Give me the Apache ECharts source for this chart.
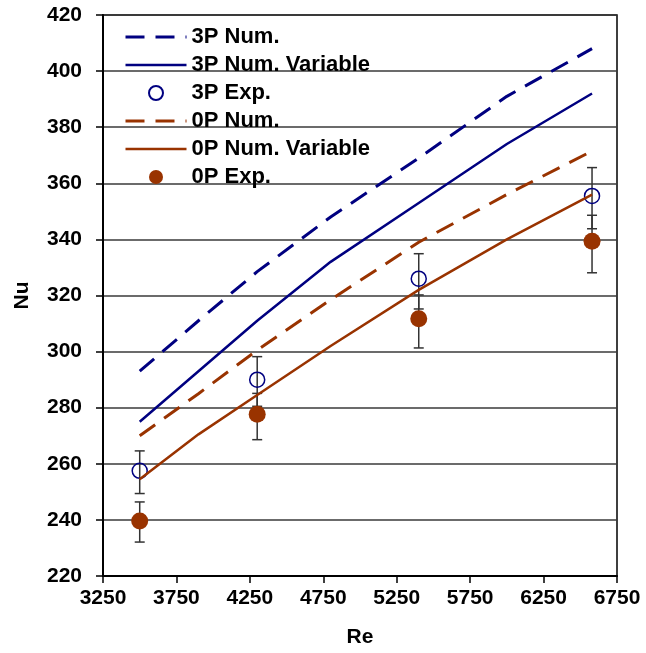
<!DOCTYPE html>
<html>
<head>
<meta charset="utf-8">
<script src="https://cdn.jsdelivr.net/npm/echarts@6/dist/echarts.min.js"></script>
<style>
  html, body { margin: 0; padding: 0; background: #fff; }
  #chart { width: 646px; height: 653px; }
</style>
</head>
<body>
<div id="chart"></div>
<script>
// numerical curves
const reNum = [3500, 3900, 4300, 4800, 5400, 6000, 6580];
const nu3pNum = [293, 311, 328.5, 348, 369, 391, 408];
const nu3pNumVar = [275, 293, 311, 332, 353, 374, 392];
const nu0pNum = [270, 285, 300.5, 318.5, 339, 356, 371.5];
const nu0pNumVar = [254.5, 270.5, 284.5, 302, 322, 340, 356];

// experiments with error bars
const reExp = [3500, 4300, 5400, 6580];
const nu3pExp = [257.5, 290, 326, 355.5];
const nu3pLow = [249.4, 280.5, 315.2, 343.8];
const nu3pHigh = [264.6, 298.2, 334.9, 365.6];
const nu0pExp = [239.6, 277.7, 311.7, 339.3];
const nu0pLow = [232.1, 268.6, 301.3, 328.1];
const nu0pHigh = [246.4, 285.1, 320.2, 348.6];

const xTicks = [3250, 3750, 4250, 4750, 5250, 5750, 6250, 6750];

const BLUE = "#000080";
const RED = "#993300";
const FONT = "'Liberation Sans', Arial, sans-serif";

const pairs = (xs, ys) => xs.map((x, i) => [x, ys[i]]);
const bars = (xs, lo, hi) => xs.map((x, i) => [x, lo[i], hi[i]]);

// line-only legend entry (hide the marker ECharts adds)
const lineLegend = name => ({
    name,
    itemStyle: { color: "rgba(0,0,0,0)", borderColor: "rgba(0,0,0,0)", borderWidth: 0, opacity: 0 }
});

function errorBar(params, api) {
    const x = api.value(0);
    const lo = api.coord([x, api.value(1)]);
    const hi = api.coord([x, api.value(2)]);
    const w = 5;
    const style = { stroke: "#333", lineWidth: 1.5 };
    return {
        type: "group",
        children: [
            { type: "line", shape: { x1: lo[0], y1: lo[1], x2: hi[0], y2: hi[1] }, style },
            { type: "line", shape: { x1: lo[0] - w, y1: lo[1], x2: lo[0] + w, y2: lo[1] }, style },
            { type: "line", shape: { x1: hi[0] - w, y1: hi[1], x2: hi[0] + w, y2: hi[1] }, style }
        ]
    };
}

const chart = echarts.init(document.getElementById("chart"));

chart.setOption({
    backgroundColor: "#fff",
    animation: false,
    textStyle: { fontFamily: FONT },

    grid: {
        left: 103, right: 29, top: 15, bottom: 76,
        show: true, borderColor: "#000", borderWidth: 1.5
    },

    legend: {
        orient: "vertical",
        left: 124,
        top: 26,
        padding: 0,
        itemWidth: 61,
        itemHeight: 14,
        itemGap: 6,
        lineStyle: { width: "inherit", type: "inherit" },
        textStyle: { fontFamily: FONT, fontSize: 22, fontWeight: "bold", color: "#000", lineHeight: 22 },
        data: [
            lineLegend("3P Num."),
            lineLegend("3P Num. Variable"),
            { name: "3P Exp." },
            lineLegend("0P Num."),
            lineLegend("0P Num. Variable"),
            { name: "0P Exp." }
        ]
    },

    xAxis: {
        type: "value",
        min: 3250,
        max: 6750,
        interval: 500,
        name: "Re",
        nameLocation: "middle",
        nameGap: 51,
        nameTextStyle: { fontFamily: FONT, fontSize: 21, fontWeight: "bold", color: "#000" },
        axisLine: { lineStyle: { color: "#000", width: 2 } },
        axisTick: { show: true, length: 7, lineStyle: { color: "#000", width: 1.5 } },
        axisLabel: {
            fontFamily: FONT, fontSize: 21, fontWeight: "bold", color: "#000", margin: 12,
            formatter: v => xTicks.includes(v) ? String(v) : ""
        },
        splitLine: { show: false }
    },

    yAxis: {
        type: "value",
        min: 220,
        max: 420,
        interval: 20,
        name: "Nu",
        nameLocation: "middle",
        nameRotate: 90,
        nameGap: 70,
        nameTextStyle: { fontFamily: FONT, fontSize: 21, fontWeight: "bold", color: "#000" },
        axisLine: { show: true, lineStyle: { color: "#000", width: 2 } },
        axisTick: { show: true, length: 7, lineStyle: { color: "#000", width: 1.5 } },
        axisLabel: { fontFamily: FONT, fontSize: 21, fontWeight: "bold", color: "#000", margin: 21 },
        splitLine: { show: true, lineStyle: { color: "#3a3a3a", width: 1.5 } }
    },

    series: [
        {
            name: "3P Err",
            type: "custom",
            renderItem: errorBar,
            data: bars(reExp, nu3pLow, nu3pHigh),
            z: 1
        },
        {
            name: "0P Err",
            type: "custom",
            renderItem: errorBar,
            data: bars(reExp, nu0pLow, nu0pHigh),
            z: 1
        },
        {
            name: "3P Num.",
            type: "line",
            symbol: "none",
            data: pairs(reNum, nu3pNum),
            lineStyle: { color: BLUE, width: 3, type: [19, 11] },
            itemStyle: { color: BLUE },
            z: 3
        },
        {
            name: "3P Num. Variable",
            type: "line",
            symbol: "none",
            data: pairs(reNum, nu3pNumVar),
            lineStyle: { color: BLUE, width: 2.5 },
            itemStyle: { color: BLUE },
            z: 3
        },
        {
            name: "3P Exp.",
            type: "scatter",
            symbol: "circle",
            symbolSize: 15,
            data: pairs(reExp, nu3pExp),
            itemStyle: { color: "rgba(255,255,255,0)", borderColor: BLUE, borderWidth: 1.5, opacity: 1 },
            z: 2
        },
        {
            name: "0P Num.",
            type: "line",
            symbol: "none",
            data: pairs(reNum, nu0pNum),
            lineStyle: { color: RED, width: 3, type: [19, 11] },
            itemStyle: { color: RED },
            z: 3
        },
        {
            name: "0P Num. Variable",
            type: "line",
            symbol: "none",
            data: pairs(reNum, nu0pNumVar),
            lineStyle: { color: RED, width: 2.5 },
            itemStyle: { color: RED },
            z: 3
        },
        {
            name: "0P Exp.",
            type: "scatter",
            symbol: "circle",
            symbolSize: 17,
            data: pairs(reExp, nu0pExp),
            itemStyle: { color: RED, opacity: 1 },
            z: 2
        }
    ]
});
</script>
</body>
</html>
